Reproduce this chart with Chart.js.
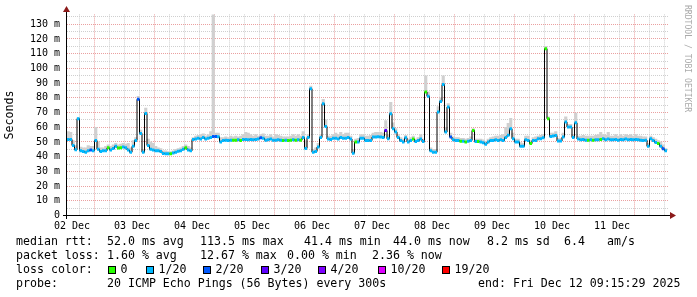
<!DOCTYPE html>
<html>
<head>
<meta charset="utf-8">
<script src="https://cdn.jsdelivr.net/npm/chart.js@4.4.1/dist/chart.umd.min.js"></script>
<style>
html, body { margin: 0; padding: 0; background: #fff; }
#wrap { position: relative; width: 697px; height: 297px; overflow: hidden; }
#rtt { position: absolute; left: 0; top: 0; }
.lg { position: absolute; font-family: 'DejaVu Sans Mono', monospace; font-size: 11.6px; line-height: 14px; white-space: pre; color: #000; }
.box { position: absolute; width: 6px; height: 6px; border: 1px solid #000; top: 266px; }
#mark { position: absolute; left: 683px; top: 5px; writing-mode: vertical-rl; font: 8.1px 'DejaVu Sans Mono', monospace; color: #aaa; white-space: pre; }
</style>
</head>
<body>
<div id="wrap">
  <canvas id="rtt" width="697" height="297"></canvas>
  <div id="mark">RRDTOOL / TOBI OETIKER</div>
  <div id="legend"></div>
</div>
<script>
// one sample per hour, hours counted from 02 Dec 00:00
const START_HOUR = 10;
const dayLabels = ['02 Dec', '03 Dec', '04 Dec', '05 Dec', '06 Dec', '07 Dec', '08 Dec', '09 Dec', '10 Dec', '11 Dec'];

// median rtt (ms)
const median = [
  51.7,51.7,47.6,44.7,65.8,44,43.5,43,44,44.5, 44,51,45,43.5,44,44,46,44.5,45.5,47,
  45.8,46,46.5,46,44.5,43,47,51,79,55.8, 43,69.4,47.6,45,44.5,44,44,43.5,42.2,42,
  42,42,42.5,43,43.7,44,45,46,44.5,44, 51.7,52,52.5,52,53,52,52.5,53,53.7,53.7,
  53.5,50,51,51.2,51,51.2,51.2,51.2,51.5,51, 51.7,51.7,51.5,51.7,51.5,51.7,52,52.8,52.5,51.2,
  51.5,52,51.2,51.2,51.5,51.2,51,51.2,51,51.2, 51.5,51.2,51.5,51.2,53,45.6,53,86.2,43,43.5,
  46.5,53,76,60.5,52,51.7,52.5,52.5,52,53, 52.5,52.5,53,52,42.4,49.9,50,52.5,52.5,51,
  51,51,53.3,53.3,53.5,53.3,53,57.8,52.2,69.2, 59,56.7,53,51,50,52.8,50,51,52,50.3,
  51,52,50.3,84,81,44,43,43,70.3,77.5, 89,56.7,73.7,53.3,51.5,51,51,50.5,50.5,50,
  50.5,51,57.8,50.3,50.3,50,49.5,48.5,50,51, 51,51.5,51,51.5,51,53,54.5,59,52.2,49.9,
  50,47,47,51.5,51,48.9,51,51,52.2,52.2, 52.8,113.4,65.8,53.7,54,54.4,50.6,50.6,53.3,63.5,
  60.1,60.1,53,63,52,51.5,51.7,51.2,51.2,51.5, 51.2,51.5,51.5,51.7,52.2,51.5,52,51.5,51.5,51.7,
  51.2,51.7,51.5,52,51.5,51.7,51.5,51.7,51.5,51.2, 51,51.2,47,52.2,51,49.7,49,47,45.3,44
];

// lost pings out of 20
const loss = [
  1,1,1,1,1,1,1,1,1,2, 1,1,1,1,1,1,0,1,1,1,
  0,0,1,1,1,1,1,1,2,1, 1,1,1,1,1,1,1,1,1,1,
  1,0,1,1,1,1,1,0,1,1, 1,1,1,1,1,1,1,1,2,2,
  1,1,1,1,1,1,0,0,1,0, 1,1,1,1,1,1,1,2,1,1,
  1,1,1,1,1,1,0,1,0,0, 1,0,1,0,1,1,1,1,1,1,
  1,1,1,1,1,1,1,1,1,1, 1,1,1,1,1,0,1,1,1,1,
  1,1,1,1,1,1,1,3,1,1, 1,1,1,1,1,1,1,1,0,1,
  1,1,1,0,1,1,1,1,1,1, 1,1,1,2,1,1,1,0,1,0,
  1,1,0,1,0,1,1,1,1,1, 1,1,1,1,1,1,1,1,1,1,
  1,1,1,1,1,0,1,1,1,1, 1,0,0,1,1,1,1,1,1,1,
  1,1,1,1,1,1,1,1,0,1, 0,1,1,0,1,1,1,1,1,1,
  1,1,1,1,1,1,1,1,1,1, 1,1,1,1,1,1,0,1,2,1
];

// top of the smoke (slowest ping, ms)
const smokeTop = [
  57,56.5,51,47.5,66.5,46.5,46,46,47.5,47, 47,60,50,46,46,47,48,47,48,49,
  48,48.5,49,48.5,49,46,51,53,81,58, 45,73,52,50,49,47,46,45.5,44,44,
  43.5,43.5,44,45,45.5,46,47,48,47,46, 53,54,54.5,55,55.5,54,55,57,137,56,
  56,53,53,53.5,53,54,53.5,54,53.5,54, 55,56.5,56,55,54,55,54,55,55.5,54,
  54,55,53.5,55,54.5,54,53.5,53.5,53.5,54, 55,54,55,54,57,51,55,88,45,46,
  49,55,79,65,54,54,55,56,55,56.5, 55,56,56,54,45,52,52.5,55,55,54,
  54,54.5,56,56.5,56.5,56.5,56,64.6,55,77, 63,59,55,53,52,54.5,52,53,54,52,
  53,55,52,95,84,46,45,45,74,80, 95,60,76,56,53.5,53,53,52.5,52.5,52,
  52.5,53.5,59,52,52,52,51.5,50.5,52,53, 53.5,54,54,54.5,55,60,62.6,66,56,52,
  52,49.5,49,54,54,51,53,53.5,54,54.5, 55,115,67,56,56,57,52.5,52.5,56,67,
  62,62,55,69.6,54,54,54.5,54,54,54, 54,54.5,55,56.5,55,54.5,56.5,54,54,55,
  54,55,54,55,54.5,55,54,55,54,54, 53.5,53.5,49,54,53,52,51,50,48,45.5
];

const lossColors = { 0: '#26ff00', 1: '#00b8ff', 2: '#0059ff', 3: '#5e00ff', 4: '#7e00ff', 10: '#dd00ff', 19: '#ff0000' };

const legendRows = [
  [16, 234, 'median rtt:'], [107, 234, '52.0 ms avg'], [200, 234, '113.5 ms max'], [304, 234, '41.4 ms min'],
  [393, 234, '44.0 ms now'], [487, 234, '8.2 ms sd'], [564, 234, '6.4'], [607, 234, 'am/s'],
  [16, 248, 'packet loss:'], [107, 248, '1.60 % avg'], [200, 248, '12.67 % max'], [287, 248, '0.00 % min'], [372, 248, '2.36 % now'],
  [16, 262, 'loss color:'],
  [16, 276, 'probe:'], [107, 276, '20 ICMP Echo Pings (56 Bytes) every 300s'], [478, 276, 'end: Fri Dec 12 09:15:29 2025']
];
const lossKeys = [[108, 0, '0'], [146, 1, '1/20'], [203, 2, '2/20'], [261, 3, '3/20'], [318, 4, '4/20'], [378, 10, '10/20'], [442, 19, '19/20']];

const lg = document.getElementById('legend');
legendRows.forEach(([x, y, t]) => {
  const d = document.createElement('div');
  d.className = 'lg'; d.style.left = x + 'px'; d.style.top = y + 'px'; d.textContent = t;
  lg.appendChild(d);
});
lossKeys.forEach(([x, k, t]) => {
  const b = document.createElement('div');
  b.className = 'box'; b.style.left = x + 'px'; b.style.background = lossColors[k];
  lg.appendChild(b);
  const d = document.createElement('div');
  d.className = 'lg'; d.style.left = (x + 12.5) + 'px'; d.style.top = '262px'; d.textContent = t;
  lg.appendChild(d);
});

// datasets built from the arrays above
const medianPts = median.map((v, i) => ({ x: START_HOUR + i, y: v }));
medianPts.push({ x: START_HOUR + median.length, y: median[median.length - 1] });
const lossPts = [];
median.forEach((v, i) => {
  lossPts.push({ x: START_HOUR + i, y: v }, { x: START_HOUR + i + 1, y: v }, { x: START_HOUR + i + 1, y: null });
});
const smokePts = median.map((v, i) => ({ x: START_HOUR + i + 0.5, y: [v, smokeTop[i]] }));

const MONO = 'DejaVu Sans Mono';
const GRID_MINOR = '#cfcfcf';
const GRID_MAJOR = '#eaa0a0';

const axesPlugin = {
  id: 'rrdAxes',
  afterDraw(chart) {
    const { ctx } = chart;
    const x0 = 66.5, y0 = 215.5;
    ctx.save();
    ctx.strokeStyle = '#000';
    ctx.lineWidth = 1;
    ctx.beginPath();
    ctx.moveTo(x0, 219); ctx.lineTo(x0, 10);
    ctx.moveTo(63, y0); ctx.lineTo(672, y0);
    ctx.stroke();
    ctx.fillStyle = '#8b1a1a';
    ctx.beginPath();
    ctx.moveTo(x0, 6); ctx.lineTo(x0 - 3.5, 12); ctx.lineTo(x0 + 3.5, 12); ctx.closePath();
    ctx.fill();
    ctx.beginPath();
    ctx.moveTo(676, y0); ctx.lineTo(670, y0 - 3.5); ctx.lineTo(670, y0 + 3.5); ctx.closePath();
    ctx.fill();
    ctx.restore();
  }
};

new Chart(document.getElementById('rtt'), {
  type: 'line',
  data: {
    datasets: [
      { type: 'bar', data: smokePts, backgroundColor: '#d0d0d0', borderWidth: 0, barPercentage: 1, categoryPercentage: 1, grouped: false, order: 3 },
      { data: medianPts, borderColor: '#000', borderWidth: 1, stepped: true, pointRadius: 0, fill: false, order: 2 },
      { data: lossPts, borderWidth: 3, borderCapStyle: 'butt', pointRadius: 0, fill: false, spanGaps: false, order: 1,
        borderColor: '#00b8ff',
        segment: { borderColor: c => lossColors[loss[Math.floor(c.p0DataIndex / 3)]] } }
    ]
  },
  options: {
    responsive: false,
    animation: false,
    devicePixelRatio: 1,
    layout: { padding: { left: 0, top: 14.4, right: 28, bottom: 66.5 } },
    plugins: { legend: { display: false }, tooltip: { enabled: false } },
    scales: {
      x: {
        type: 'linear', min: 10, max: 250.8, bounds: 'data', offset: false,
        afterBuildTicks: s => { const t = []; for (let h = 12; h <= 250; h += 6) t.push({ value: h }); s.ticks = t; },
        afterFit: s => { s.height = 15; },
        ticks: {
          autoSkip: false, maxRotation: 0, padding: 5, color: '#000',
          font: { family: MONO, size: 10 },
          callback: v => (v % 24 === 12 ? dayLabels[(v - 12) / 24] : '')
        },
        grid: { drawTicks: false, lineWidth: 1, color: c => (c.tick && c.tick.value % 24 === 0 ? GRID_MAJOR : GRID_MINOR) },
        border: { display: false, dash: [1, 1] }
      },
      y: {
        min: 0, max: 136.7, bounds: 'data',
        afterBuildTicks: s => { const t = []; for (let v = 0; v <= 135; v += 5) t.push({ value: v }); s.ticks = t; },
        afterFit: s => { s.width = 67; },
        ticks: {
          autoSkip: false, padding: 7, color: '#000',
          font: { family: MONO, size: 10 },
          callback: v => (v % 10 === 0 ? (v === 0 ? '0' : v + ' m') : '')
        },
        grid: { drawTicks: false, lineWidth: 1, color: c => (c.tick && c.tick.value % 10 === 0 ? GRID_MAJOR : GRID_MINOR) },
        border: { display: false, dash: [1, 1] },
        title: { display: true, text: 'Seconds', color: '#000', font: { family: MONO, size: 11.6 }, padding: { top: 3, bottom: 0 } }
      }
    }
  },
  plugins: [axesPlugin]
});
</script>
</body>
</html>
